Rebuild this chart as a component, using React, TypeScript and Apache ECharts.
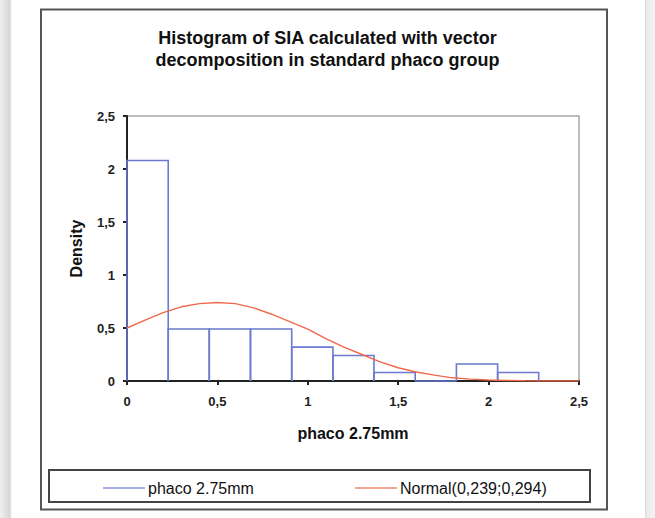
import React, { useEffect, useRef } from "react";
import * as echarts from "echarts";

// Histogram bins (edges) and densities
const binEdges = [0, 0.228, 0.455, 0.683, 0.911, 1.139, 1.366, 1.594, 1.822, 2.05, 2.277];
const densities = [2.08, 0.49, 0.49, 0.49, 0.32, 0.24, 0.08, 0, 0.16, 0.08];

// Fitted normal curve
const curveX = [0, 0.1, 0.2, 0.3, 0.4, 0.5, 0.6, 0.7, 0.8, 0.9, 1.0, 1.1, 1.2, 1.3, 1.4, 1.5, 1.6, 1.7, 1.8, 1.9, 2.0, 2.1, 2.2, 2.3, 2.4, 2.5];
const curveY = [0.5, 0.575, 0.645, 0.7, 0.73, 0.74, 0.73, 0.69, 0.63, 0.56, 0.49, 0.4, 0.32, 0.25, 0.18, 0.125, 0.085, 0.055, 0.03, 0.018, 0.01, 0.005, 0.002, 0, 0, 0];

const xTicks = [0, 0.5, 1, 1.5, 2, 2.5];
const xTickLabels = ["0", "0,5", "1", "1,5", "2", "2,5"];
const yTicks = [0, 0.5, 1, 1.5, 2, 2.5];
const yTickLabels = ["0", "0,5", "1", "1,5", "2", "2,5"];

const seriesNames = ["phaco 2.75mm", "Normal(0,239;0,294)"];
const titleLines = ["Histogram of SIA calculated with vector", "decomposition in standard phaco group"];
const xAxisName = "phaco 2.75mm";
const yAxisName = "Density";

const BLUE = "#6b79d0";
const ORANGE = "#f0694a";
const FONT = "'Liberation Sans', Arial, Helvetica, sans-serif";

function labelFor(ticks: number[], labels: string[], v: number) {
  for (let i = 0; i < ticks.length; i++) {
    if (Math.abs(ticks[i] - v) < 1e-9) return labels[i];
  }
  return "";
}

export default function App() {
  const ref = useRef<HTMLDivElement>(null);

  useEffect(() => {
    if (!ref.current) return;
    const chart = echarts.init(ref.current, null, { renderer: "svg" });

    const histData = densities.map((d, i) => [binEdges[i], binEdges[i + 1], d]);
    const curveData = curveX.map((x, i) => [x, curveY[i]]);

    chart.setOption({
      animation: false,
      backgroundColor: "#ffffff",
      title: {
        text: titleLines.join("\n"),
        left: "center",
        top: 22,
        textStyle: {
          fontFamily: FONT,
          fontSize: 18,
          fontWeight: "bold",
          color: "#111",
          lineHeight: 22,
        },
      },
      graphic: [
        {
          type: "rect",
          silent: true,
          z: -10,
          shape: { x: 0, y: 0, width: 12, height: 518 },
          style: {
            fill: new echarts.graphic.LinearGradient(0, 0, 1, 0, [
              { offset: 0, color: "#f0f0f0" },
              { offset: 0.8, color: "#d6d6d6" },
              { offset: 1, color: "#ffffff" },
            ]),
          },
        },
        {
          type: "rect",
          silent: true,
          z: -10,
          shape: { x: 645, y: 0, width: 10, height: 518 },
          style: {
            fill: new echarts.graphic.LinearGradient(0, 0, 1, 0, [
              { offset: 0, color: "#d8d8d8" },
              { offset: 0.2, color: "#ececec" },
              { offset: 1, color: "#f2f2f2" },
            ]),
          },
        },
        {
          type: "rect",
          silent: true,
          shape: { x: 41, y: 9.5, width: 566, height: 500 },
          style: { fill: "none", stroke: "#555", lineWidth: 2 },
        },
        {
          type: "rect",
          silent: true,
          shape: { x: 49, y: 470, width: 541, height: 32 },
          style: { fill: "none", stroke: "#444", lineWidth: 2 },
        },
      ],
      legend: [
        {
          data: [seriesNames[0]],
          left: 98,
          top: 475,
          icon: "rect",
          itemWidth: 42,
          itemHeight: 2,
          selectedMode: false,
          itemStyle: { opacity: 0.6 },
          textStyle: { fontFamily: FONT, fontSize: 16, color: "#111", padding: [0, 0, 0, -2] },
        },
        {
          data: [seriesNames[1]],
          left: 350,
          top: 475,
          icon: "rect",
          itemWidth: 42,
          itemHeight: 2,
          selectedMode: false,
          itemStyle: { opacity: 0.6 },
          textStyle: { fontFamily: FONT, fontSize: 16, color: "#111", padding: [0, 0, 0, -2] },
        },
      ],
      grid: {
        left: 127,
        right: 76,
        top: 116,
        bottom: 137,
        show: true,
        borderColor: "#a8a8a8",
        borderWidth: 1.5,
        backgroundColor: "transparent",
      },
      xAxis: {
        type: "value",
        min: 0,
        max: 2.5,
        interval: 0.5,
        name: xAxisName,
        nameLocation: "middle",
        nameGap: 44,
        nameTextStyle: { fontFamily: FONT, fontSize: 16, fontWeight: "bold", color: "#111" },
        axisLine: { show: true, onZero: false, lineStyle: { color: "#222", width: 2 } },
        axisTick: { show: true, inside: false, length: 4, lineStyle: { color: "#222", width: 2 } },
        axisLabel: {
          fontFamily: FONT,
          fontSize: 13,
          fontWeight: "bold",
          color: "#222",
          margin: 14,
          formatter: (v: number) => labelFor(xTicks, xTickLabels, v),
        },
        splitLine: { show: false },
      },
      yAxis: {
        type: "value",
        min: 0,
        max: 2.5,
        interval: 0.5,
        name: yAxisName,
        nameLocation: "middle",
        nameGap: 43,
        nameRotate: 90,
        nameTextStyle: { fontFamily: FONT, fontSize: 16, fontWeight: "bold", color: "#111" },
        axisLine: { show: true, onZero: false, lineStyle: { color: "#222", width: 2 } },
        axisTick: { show: true, inside: false, length: 4, lineStyle: { color: "#222", width: 2 } },
        axisLabel: {
          fontFamily: FONT,
          fontSize: 13,
          fontWeight: "bold",
          color: "#222",
          margin: 12,
          formatter: (v: number) => labelFor(yTicks, yTickLabels, v),
        },
        splitLine: { show: false },
      },
      series: [
        {
          name: seriesNames[0],
          type: "custom",
          itemStyle: { color: BLUE },
          encode: { x: [0, 1], y: 2 },
          data: histData,
          renderItem: (_params: any, api: any) => {
            const x0 = api.value(0);
            const x1 = api.value(1);
            const h = api.value(2);
            const p0 = api.coord([x0, 0]);
            const p1 = api.coord([x0, h]);
            const p2 = api.coord([x1, h]);
            const p3 = api.coord([x1, 0]);
            return {
              type: "polyline",
              shape: { points: [p0, p1, p2, p3] },
              style: { fill: "none", stroke: BLUE, lineWidth: 1.6 },
            };
          },
        },
        {
          name: seriesNames[1],
          type: "line",
          data: curveData,
          showSymbol: false,
          symbol: "none",
          itemStyle: { color: ORANGE },
          lineStyle: { color: ORANGE, width: 1.4 },
          z: 3,
        },
      ],
    });

    return () => chart.dispose();
  }, []);

  return (
    <div
      ref={ref}
      style={{ position: "fixed", left: 0, top: 0, width: 655, height: 518 }}
    />
  );
}
